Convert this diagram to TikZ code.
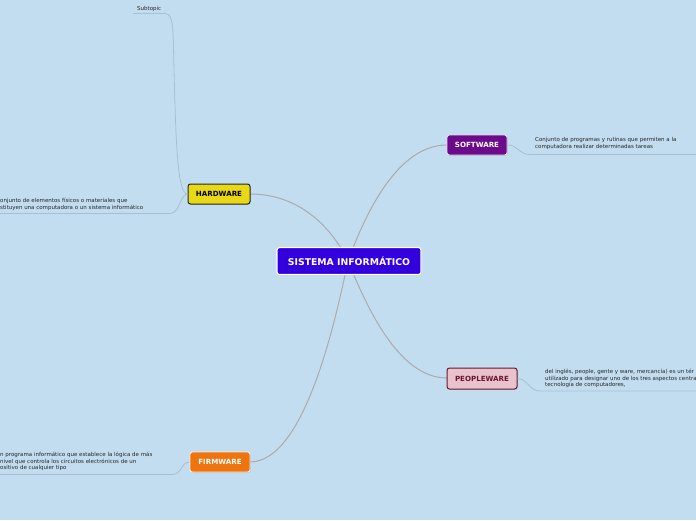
\documentclass[tikz,border=0pt]{standalone}
\usepackage{fontspec}
\setmainfont{DejaVu Sans}
\usetikzlibrary{shadows}
\definecolor{bgc}{HTML}{C2DDF0}
\definecolor{mainline}{HTML}{ABABAB}
\definecolor{subline}{HTML}{A9BFD0}
\definecolor{cblue}{HTML}{3300DD}
\definecolor{cpurple}{HTML}{6B0A8A}
\definecolor{cyellow}{HTML}{E8D816}
\definecolor{cpink}{HTML}{E8C3CB}
\definecolor{cmaroon}{HTML}{6E1430}
\definecolor{corange}{HTML}{EE7410}
\tikzset{
  topic/.style={rounded corners=2.5pt, font=\bfseries\fontsize{7.1}{8}\selectfont, inner sep=0pt,
    drop shadow={opacity=0.25, shadow xshift=0.8pt, shadow yshift=-0.8pt}},
  desc/.style={font=\fontsize{5.5}{6.9}\selectfont, align=left, inner sep=0pt, text=black!85},
  mainconn/.style={draw=mainline, line width=1pt},
  subconn/.style={draw=subline, line width=0.8pt},
}
\begin{document}
\begin{tikzpicture}[x=1pt,y=-1pt]
\fill[bgc] (0,0) rectangle (696,520);
\useasboundingbox (0,0) rectangle (696,520);

% centre coordinate behind main node
\coordinate (c) at (348,261);

% main connectors
\draw[mainconn] (250,194) coordinate (hwr) .. controls (300,194) and (332,228) .. (c);
\draw[mainconn] (447,145) coordinate (swl) .. controls (398,145) and (366,212) .. (c);
\draw[mainconn] (447,378) coordinate (pwl) .. controls (398,378) and (366,305) .. (c);
\draw[mainconn] (250,462) coordinate (fwr) .. controls (305,462) and (336,318) .. (c);

% nodes
\node[topic, fill=cblue, draw=white, line width=1.2pt, text=white, minimum width=144pt, minimum height=27pt, font=\bfseries\fontsize{9.3}{10}\selectfont] (main) at (349,261) {SISTEMA INFORMÁTICO};
\node[topic, fill=cpurple, draw=white!85!cpurple, line width=0.9pt, text=white, minimum width=60pt, minimum height=20pt] (sw) at (477,145) {SOFTWARE};
\node[topic, fill=cyellow, draw=black!85, line width=1pt, text=black, minimum width=62pt, minimum height=20pt] (hw) at (219,194) {HARDWARE};
\node[topic, fill=cpink, draw=cmaroon, line width=1pt, text=cmaroon, minimum width=70pt, minimum height=21pt] (pw) at (482,378.5) {PEOPLEWARE};
\node[topic, fill=corange, draw=white!85!corange, line width=0.9pt, text=white, minimum width=60pt, minimum height=20pt] (fw) at (220,462) {FIRMWARE};

% descriptions
\node[desc, anchor=north west] (sub) at (137,6) {Subtopic};
\node[desc, anchor=north west] (hwt) at (0,197.5) {onjunto de elementos físicos o materiales que\\stituyen una computadora o un sistema informático};
\node[desc, anchor=north west] (fwt) at (0,451.5) {n programa informático que establece la lógica de más\\ nivel que controla los circuitos electrónicos de un\\ositivo de cualquier tipo};
\node[desc, anchor=north west] (swt) at (535,137.5) {Conjunto de programas y rutinas que permiten a la\\computadora realizar determinadas tareas};
\node[desc, anchor=north west] (pwt) at (545,368.5) {del inglés, people, gente y ware, mercancía) es un tér\\utilizado para designar uno de los tres aspectos centra\\tecnología de computadores,};

% sub connectors
\coordinate (subA) at (133,13.5);
\coordinate (subB) at (165,13.5);
\draw[subconn] (subA) -- (subB) .. controls (174,13.5) and (173,30) .. (174,70)
  .. controls (176,150) and (178,194) .. (hw.west);
\coordinate (hwA) at (170,213.5);
\coordinate (hwB) at (0,213.5);
\draw[subconn] (hw.west) .. controls (180,194) and (180,213.5) .. (hwA) -- (hwB);
\coordinate (fwA) at (172,474.5);
\coordinate (fwB) at (0,474.5);
\draw[subconn] (fw.west) .. controls (181,462) and (182,474.5) .. (fwA) -- (fwB);
\coordinate (swA) at (530,154.5);
\coordinate (swB) at (696,154.5);
\draw[subconn] (sw.east) .. controls (518,145) and (519,154.5) .. (swA) -- (swB);
\coordinate (pwA) at (540,391);
\coordinate (pwB) at (696,391);
\draw[subconn] (pw.east) .. controls (528,379) and (529,391) .. (pwA) -- (pwB);
\end{tikzpicture}
\end{document}
